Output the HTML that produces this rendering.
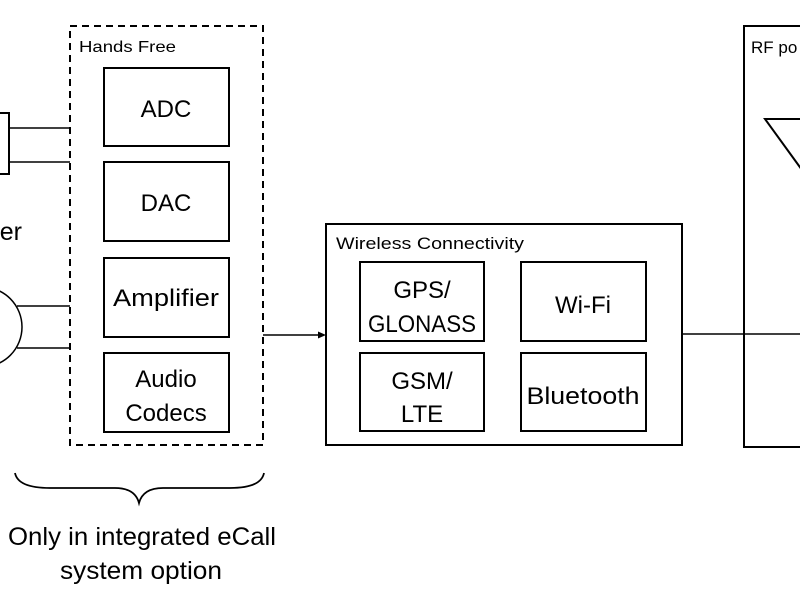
<!DOCTYPE html>
<html><head><meta charset="utf-8"><style>html,body{margin:0;padding:0;background:#fff}svg{display:block}</style></head>
<body>
<svg width="800" height="600" viewBox="0 0 800 600" xmlns="http://www.w3.org/2000/svg" font-family="Liberation Sans, sans-serif" fill="none" stroke="#000">
<rect x="0" y="0" width="800" height="600" fill="#fff" stroke="none"/>
<!-- left partial elements -->
<rect x="-10" y="113" width="19" height="61" stroke-width="2"/>
<line x1="9" y1="128" x2="70" y2="128" stroke-width="1.5"/>
<line x1="9" y1="162" x2="70" y2="162" stroke-width="1.5"/>
<circle cx="-18" cy="327" r="40" stroke-width="1.5"/>
<line x1="17" y1="306" x2="70" y2="306" stroke-width="1.5"/>
<line x1="17" y1="348" x2="70" y2="348" stroke-width="1.5"/>
<text x="22" y="240" text-anchor="end" font-size="25" fill="#000" stroke="none">er</text>
<!-- Hands free -->
<rect x="70" y="26" width="193" height="419" stroke-width="2" stroke-dasharray="7,5"/>
<text x="79" y="52" font-size="16" fill="#000" stroke="none" textLength="97" lengthAdjust="spacingAndGlyphs">Hands Free</text>
<rect x="104" y="68" width="125" height="78" stroke-width="2"/>
<rect x="104" y="162" width="125" height="79" stroke-width="2"/>
<rect x="104" y="258" width="125" height="79" stroke-width="2"/>
<rect x="104" y="353" width="125" height="79" stroke-width="2"/>
<g fill="#000" stroke="none" font-size="24" text-anchor="middle">
<text x="166" y="117">ADC</text>
<text x="166" y="211">DAC</text>
<text x="166" y="306" textLength="106" lengthAdjust="spacingAndGlyphs">Amplifier</text>
<text x="166" y="387">Audio</text>
<text x="166" y="421">Codecs</text>
</g>
<!-- arrow -->
<line x1="263" y1="335" x2="320" y2="335" stroke-width="1.5"/>
<path d="M326 335 L318 331.5 L318 338.5 Z" fill="#000" stroke="none"/>
<!-- Wireless -->
<rect x="326" y="224" width="356" height="221" stroke-width="2"/>
<text x="336" y="249" font-size="17" fill="#000" stroke="none" textLength="188" lengthAdjust="spacingAndGlyphs">Wireless Connectivity</text>
<rect x="360" y="262" width="124" height="79" stroke-width="2"/>
<rect x="521" y="262" width="125" height="79" stroke-width="2"/>
<rect x="360" y="353" width="124" height="78" stroke-width="2"/>
<rect x="521" y="353" width="125" height="78" stroke-width="2"/>
<g fill="#000" stroke="none" font-size="24" text-anchor="middle">
<text x="422" y="298">GPS/</text>
<text x="422" y="332" textLength="108" lengthAdjust="spacingAndGlyphs">GLONASS</text>
<text x="583" y="313">Wi-Fi</text>
<text x="422" y="389">GSM/</text>
<text x="422" y="422">LTE</text>
<text x="583" y="404" textLength="113" lengthAdjust="spacingAndGlyphs">Bluetooth</text>
</g>
<line x1="682" y1="334" x2="800" y2="334" stroke-width="1.5"/>
<!-- RF -->
<rect x="744" y="26" width="80" height="421" stroke-width="2"/>
<text x="751" y="53" font-size="17" fill="#000" stroke="none">RF po</text>
<path d="M802 119 L765 119 L802 170" stroke-width="2"/>
<!-- brace -->
<path d="M15 473 Q18 488 50 488 L115 488 Q135 488 139 503 Q143 488 163 488 L230 488 Q261 488 264 473" stroke-width="1.8"/>
<g fill="#000" stroke="none" font-size="25" text-anchor="middle">
<text x="142" y="545" textLength="268" lengthAdjust="spacingAndGlyphs">Only in integrated eCall</text>
<text x="141" y="579" textLength="162" lengthAdjust="spacingAndGlyphs">system option</text>
</g>
</svg>
</body></html>
